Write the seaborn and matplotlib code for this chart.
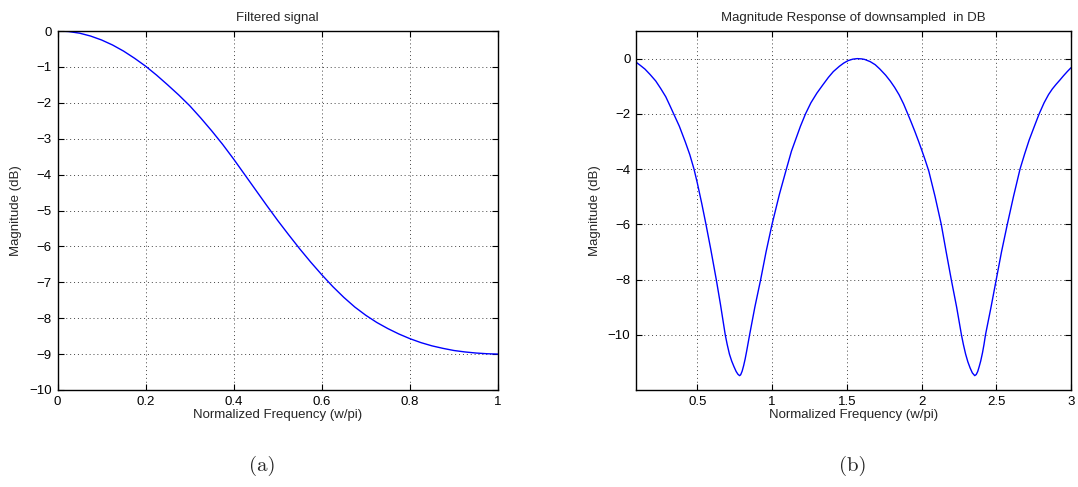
import matplotlib
matplotlib.use("Agg")
import matplotlib.pyplot as plt
import seaborn as sns
import numpy as np
import pandas as pd

# ---- Data ----
left_x = [0.0, 0.025, 0.05, 0.075, 0.1, 0.125, 0.15, 0.175, 0.2, 0.225, 0.25,
          0.275, 0.3, 0.325, 0.35, 0.375, 0.4, 0.425, 0.45, 0.475, 0.5,
          0.525, 0.55, 0.575, 0.6, 0.625, 0.65, 0.675, 0.7, 0.725, 0.75,
          0.775, 0.8, 0.825, 0.85, 0.875, 0.9, 0.925, 0.95, 0.975, 1.0]
left_y = [0.0, -0.015, -0.06, -0.14, -0.25, -0.39, -0.56, -0.76, -0.98, -1.23, -1.50,
          -1.78, -2.08, -2.42, -2.78, -3.16, -3.57, -4.0, -4.43, -4.86, -5.28,
          -5.68, -6.07, -6.44, -6.79, -7.12, -7.42, -7.69, -7.92, -8.12, -8.29,
          -8.44, -8.57, -8.68, -8.77, -8.84, -8.90, -8.94, -8.97, -8.99, -9.0]

right_x = [0.093, 0.12, 0.15, 0.185, 0.222, 0.255, 0.289, 0.315, 0.342, 0.38, 0.42,
           0.45, 0.478, 0.50, 0.53, 0.558, 0.59, 0.627, 0.655, 0.687, 0.70, 0.715,
           0.73, 0.745, 0.76, 0.772, 0.783, 0.79, 0.80, 0.81, 0.82, 0.83, 0.84,
           0.85, 0.885, 0.924, 0.96, 1.0, 1.05, 1.096, 1.13, 1.16, 1.19, 1.224,
           1.26, 1.30, 1.34, 1.377, 1.41, 1.45, 1.48, 1.51, 1.54, 1.57, 1.60,
           1.62, 1.657, 1.69, 1.72, 1.76, 1.792, 1.82, 1.85, 1.88, 1.904, 1.93,
           1.955, 1.98, 2.0, 2.025, 2.049, 2.09, 2.132, 2.165, 2.199, 2.235,
           2.267, 2.28, 2.295, 2.31, 2.325, 2.34, 2.356, 2.366, 2.376, 2.386,
           2.396, 2.408, 2.418, 2.428, 2.465, 2.50, 2.535, 2.574, 2.615, 2.659,
           2.69, 2.72, 2.755, 2.787, 2.82, 2.85, 2.875, 2.899, 2.925, 2.95,
           2.975, 3.0]
right_y = [-0.14, -0.25, -0.38, -0.58, -0.81, -1.08, -1.38, -1.68, -2.0, -2.45, -3.02,
           -3.48, -4.0, -4.5, -5.25, -6.0, -6.9, -8.0, -8.9, -10.0, -10.35, -10.7,
           -10.95, -11.15, -11.33, -11.43, -11.48, -11.45, -11.32, -11.12, -10.88,
           -10.6, -10.3, -10.0, -9.0, -8.0, -7.0, -6.0, -4.9, -4.0, -3.35, -2.9,
           -2.45, -2.0, -1.6, -1.25, -0.95, -0.68, -0.47, -0.28, -0.16, -0.07,
           -0.02, 0.0, -0.01, -0.03, -0.11, -0.22, -0.37, -0.6, -0.82, -1.04, -1.31,
           -1.64, -1.95, -2.29, -2.63, -2.99, -3.29, -3.68, -4.08, -4.98, -6.0, -7.0,
           -8.0, -9.0, -10.0, -10.35, -10.7, -10.98, -11.2, -11.38, -11.48,
           -11.44, -11.33, -11.15, -10.95, -10.65, -10.35, -10.0, -9.0, -8.0,
           -7.0, -6.0, -5.0, -4.0, -3.45, -2.95, -2.45, -2.0, -1.6, -1.3,
           -1.1, -0.94, -0.78, -0.62, -0.47, -0.33]

left_xticks = [0, 0.2, 0.4, 0.6, 0.8, 1]
left_xticklabels = ["0", "0.2", "0.4", "0.6", "0.8", "1"]
left_yticks = [0, -1, -2, -3, -4, -5, -6, -7, -8, -9, -10]
right_xticks = [0.5, 1, 1.5, 2, 2.5, 3]
right_xticklabels = ["0.5", "1", "1.5", "2", "2.5", "3"]
right_yticks = [0, -2, -4, -6, -8, -10]

titles = ["Filtered signal", "Magnitude Response of downsampled  in DB"]
xlabel = "Normalized Frequency (w/pi)"
ylabel = "Magnitude (dB)"
captions = ["(a)", "(b)"]

# ---- Style ----
sns.set_style("white")
plt.rcParams["font.family"] = ["Liberation Sans", "DejaVu Sans"]
plt.rcParams["axes.unicode_minus"] = True

FS = 9.5
W, H = 1078, 487
fig = plt.figure(figsize=(W / 100, H / 100), dpi=100)

def box(l, r, t, b):
    return [l / W, 1 - b / H, (r - l) / W, (b - t) / H]

ax1 = fig.add_axes(box(57.5, 498, 31, 390))
ax2 = fig.add_axes(box(636, 1071, 31, 390))

df1 = pd.DataFrame({"x": left_x, "y": left_y})
df2 = pd.DataFrame({"x": right_x, "y": right_y})
sns.lineplot(data=df1, x="x", y="y", ax=ax1, color="#0000ff", lw=1.0, estimator=None, sort=True)
sns.lineplot(data=df2, x="x", y="y", ax=ax2, color="#0000ff", lw=1.0, estimator=None, sort=True)

ax1.set_xlim(0, 1)
ax1.set_ylim(-10, 0)
ax1.set_xticks(left_xticks)
ax1.set_xticklabels(left_xticklabels)
ax1.set_yticks(left_yticks)

ax2.set_xlim(0.09, 3.0)
ax2.set_ylim(-12, 1)
ax2.set_xticks(right_xticks)
ax2.set_xticklabels(right_xticklabels)
ax2.set_yticks(right_yticks)

for ax, title in zip([ax1, ax2], titles):
    ax.set_title(title, fontsize=FS, pad=7)
    ax.set_xlabel(xlabel, fontsize=FS, labelpad=1)
    ax.set_ylabel(ylabel, fontsize=FS, labelpad=5)
    ax.grid(True, linestyle=(0, (1, 3)), color="#444444", linewidth=0.7)
    ax.tick_params(direction="in", length=4, width=0.8, top=True, right=True,
                   bottom=True, left=True, labelsize=FS, pad=4, colors="black")
    for s in ax.spines.values():
        s.set_visible(True)
        s.set_color("black")
        s.set_linewidth(1.0)

fig.text(262 / W, 1 - 466 / H, captions[0], fontsize=15, family="cmr10",
         ha="center", va="center")
fig.text(853 / W, 1 - 466 / H, captions[1], fontsize=15, family="cmr10",
         ha="center", va="center")

fig.savefig("out.png", dpi=100, facecolor="white")
